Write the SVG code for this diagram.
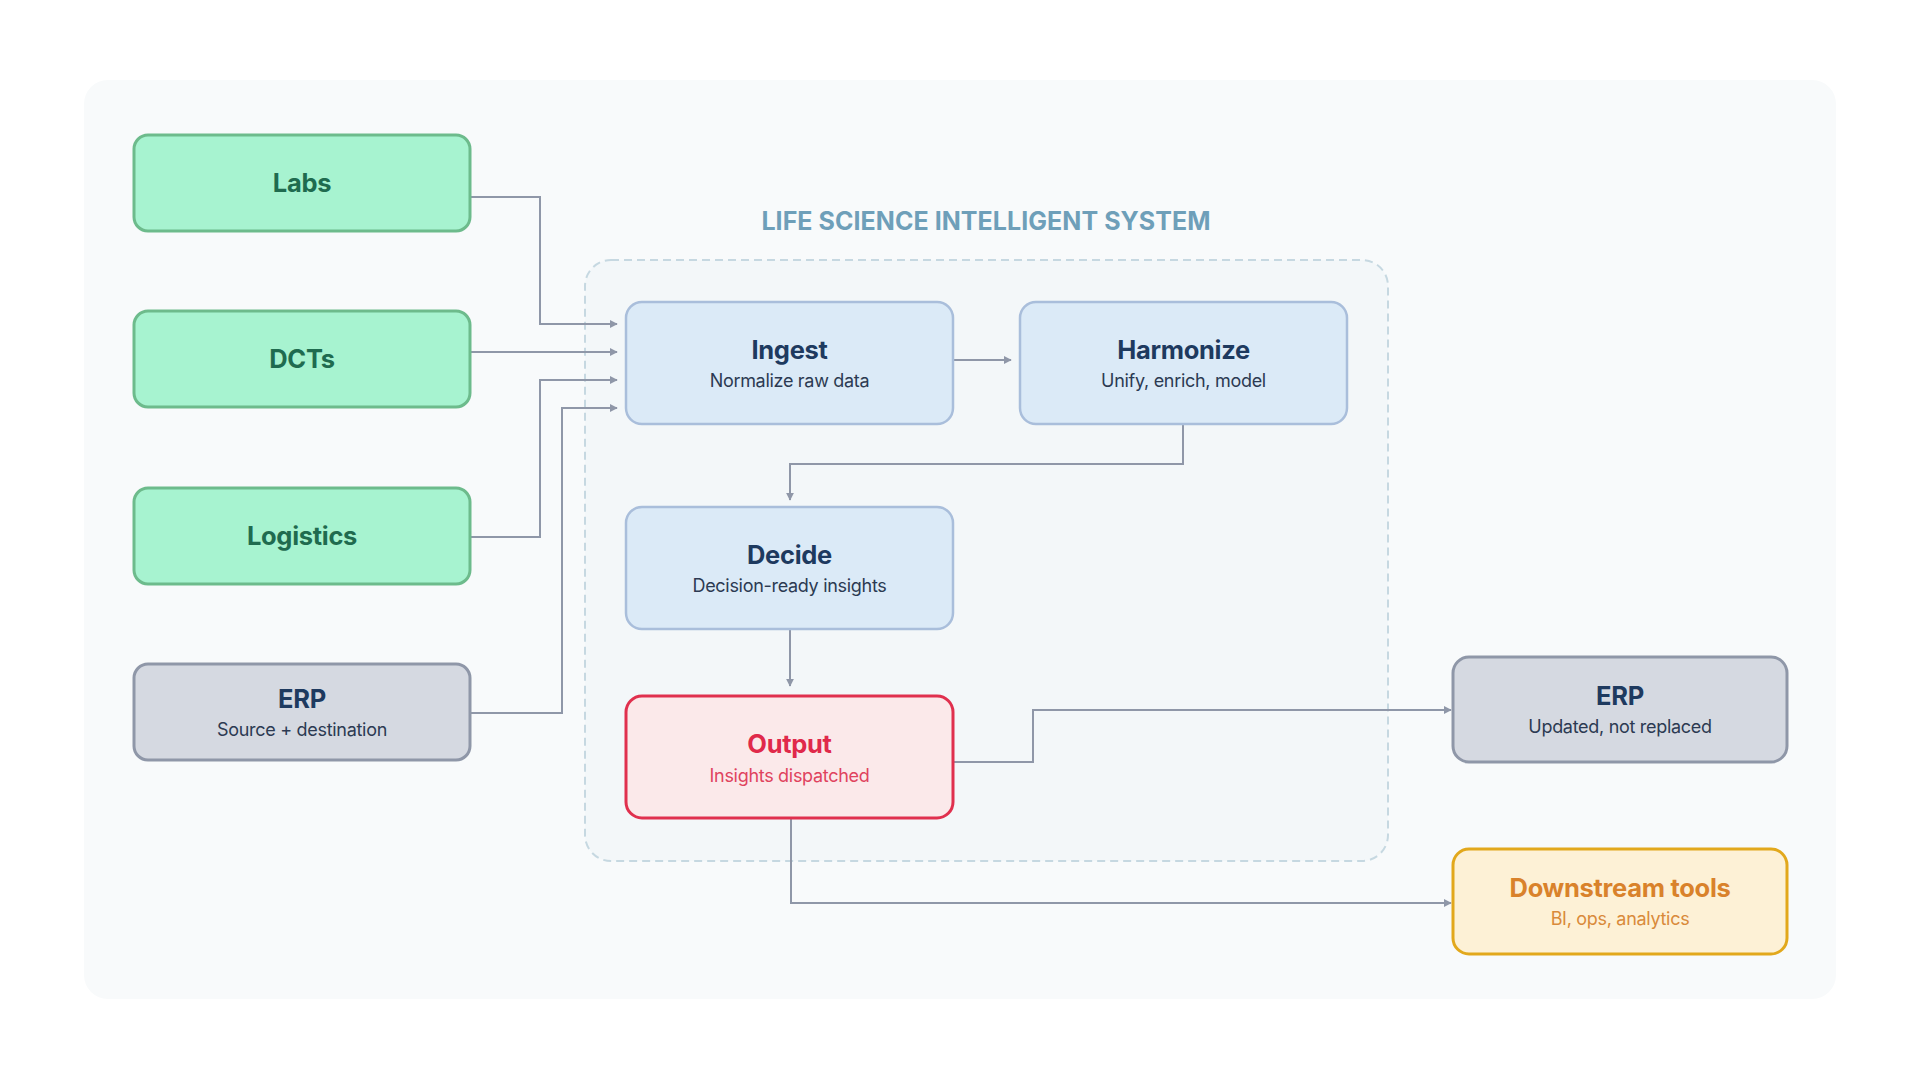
<svg xmlns="http://www.w3.org/2000/svg" width="1920" height="1080" viewBox="0 0 1920 1080">
<defs>
<marker id="arr" viewBox="0 0 10 10" refX="9" refY="5" markerWidth="8" markerHeight="8" markerUnits="userSpaceOnUse" orient="auto">
<path d="M0,0 L10,5 L0,10 z" fill="#8f97a8"/>
</marker>
<style>
text{font-family:Inter,"Noto Sans","Liberation Sans",sans-serif;text-anchor:middle}
.t{font-size:25.5px;font-weight:700;letter-spacing:-0.3px}
.s{font-size:18px;font-weight:400;letter-spacing:-0.3px}
.green rect{fill:#a7f3d0;stroke:#6dbb8c;stroke-width:3}
.green text{fill:#1f6b4f}
.gray rect{fill:#d5d9e1;stroke:#8f97a8;stroke-width:3}
.gray .t{fill:#1e3a5f}
.gray .s{fill:#2c3a52}
.blue rect{fill:#dbeaf7;stroke:#a9bedb;stroke-width:2.5}
.blue .t{fill:#1e3a5f}
.blue .s{fill:#2c3a52}
.red rect{fill:#fbe9ea;stroke:#e0304e;stroke-width:3}
.red .t{fill:#e0294a}
.red .s{fill:#e0435e}
.yellow rect{fill:#fdf1d6;stroke:#e2a81c;stroke-width:3}
.yellow .t{fill:#d9822b}
.yellow .s{fill:#d98a3a}
#connectors path{fill:none;stroke:#8f97a8;stroke-width:2}
</style>
</defs>
<rect x="0" y="0" width="1920" height="1080" fill="#ffffff"/>
<rect x="84" y="80" width="1752" height="919" rx="24" fill="#f8fafb"/>
<g id="system">
<rect x="585" y="260" width="803" height="601" rx="26" fill="#f3f7f9" stroke="#c6d8e1" stroke-width="2" stroke-dasharray="8 5"/>
<text x="986" y="230" style="font-size:25px;font-weight:700;letter-spacing:0.05px;fill:#6e9fb9">LIFE SCIENCE INTELLIGENT SYSTEM</text>
</g>
<g id="connectors">
<path d="M470,197 H540 V324 H617" marker-end="url(#arr)"/>
<path d="M470,352 H617" marker-end="url(#arr)"/>
<path d="M470,537 H540 V380 H617" marker-end="url(#arr)"/>
<path d="M470,713 H562 V408 H617" marker-end="url(#arr)"/>
<path d="M953,360 H1011" marker-end="url(#arr)"/>
<path d="M1183,424 V464 H790 V500" marker-end="url(#arr)"/>
<path d="M790,629 V686" marker-end="url(#arr)"/>
<path d="M953,762 H1033 V710 H1451" marker-end="url(#arr)"/>
<path d="M791,818 V903 H1451" marker-end="url(#arr)"/>
</g>
<g id="labs" class="green">
<rect x="134" y="135" width="336" height="96" rx="14"/>
<text class="t" x="302" y="192">Labs</text>
</g>
<g id="dcts" class="green">
<rect x="134" y="311" width="336" height="96" rx="14"/>
<text class="t" x="302" y="368">DCTs</text>
</g>
<g id="logistics" class="green">
<rect x="134" y="488" width="336" height="96" rx="14"/>
<text class="t" x="302" y="545">Logistics</text>
</g>
<g id="erp-source" class="gray">
<rect x="134" y="664" width="336" height="96" rx="14"/>
<text class="t" x="302" y="708">ERP</text>
<text class="s" x="302" y="736">Source + destination</text>
</g>
<g id="ingest" class="blue">
<rect x="626" y="302" width="327" height="122" rx="16"/>
<text class="t" x="789.5" y="359">Ingest</text>
<text class="s" x="789.5" y="387">Normalize raw data</text>
</g>
<g id="harmonize" class="blue">
<rect x="1020" y="302" width="327" height="122" rx="16"/>
<text class="t" x="1183.5" y="359">Harmonize</text>
<text class="s" x="1183.5" y="387">Unify, enrich, model</text>
</g>
<g id="decide" class="blue">
<rect x="626" y="507" width="327" height="122" rx="16"/>
<text class="t" x="789.5" y="564">Decide</text>
<text class="s" x="789.5" y="592">Decision-ready insights</text>
</g>
<g id="output" class="red">
<rect x="626" y="696" width="327" height="122" rx="16"/>
<text class="t" x="789.5" y="753">Output</text>
<text class="s" x="789.5" y="782">Insights dispatched</text>
</g>
<g id="erp-dest" class="gray">
<rect x="1453" y="657" width="334" height="105" rx="16"/>
<text class="t" x="1620" y="705">ERP</text>
<text class="s" x="1620" y="733">Updated, not replaced</text>
</g>
<g id="downstream" class="yellow">
<rect x="1453" y="849" width="334" height="105" rx="16"/>
<text class="t" x="1620" y="897">Downstream tools</text>
<text class="s" x="1620" y="925">BI, ops, analytics</text>
</g>
</svg>
